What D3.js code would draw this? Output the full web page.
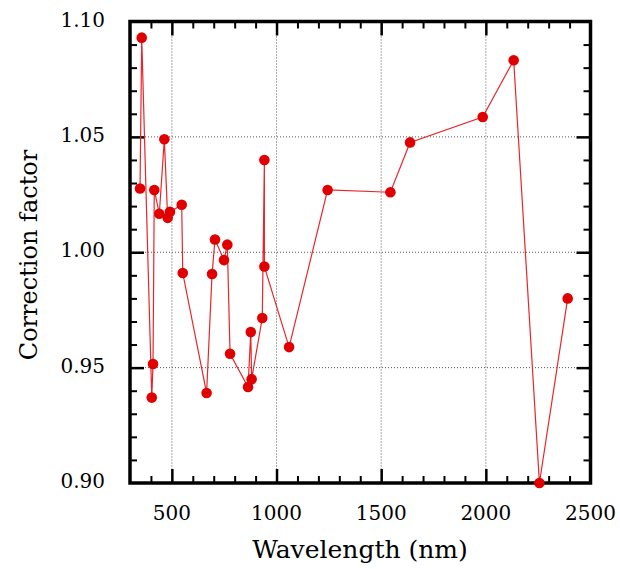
<!DOCTYPE html>
<html>
<head>
<meta charset="utf-8">
<script src="https://cdn.jsdelivr.net/npm/d3@7"></script>
<style>
  body { margin: 0; background: #fff; }
</style>
</head>
<body>
<svg></svg>
<script>
// data
const wavelengths = [348, 356, 404, 410, 416, 440, 464, 480, 491, 547, 552, 666, 692, 706, 749, 765, 778,
  864, 877, 881, 932, 942, 942, 1060, 1244, 1544, 1638, 1985, 2133, 2256, 2391];
const factors = [1.0276, 1.093, 0.937, 0.9516, 1.027, 1.0167, 1.049, 1.0149, 1.0175, 1.0206, 0.991, 0.939,
  0.9906, 1.0055, 0.9966, 1.0033, 0.956, 0.9416, 0.9654, 0.945, 0.9715, 1.040, 0.9938, 0.9589, 1.027,
  1.026, 1.0476, 1.0586, 1.0832, 0.900, 0.980];
const xTicks = [500, 1000, 1500, 2000, 2500];
const yTicks = [0.90, 0.95, 1.00, 1.05, 1.10];
const xGrid = [500, 1000, 1500, 2000];
const yGrid = [0.95, 1.00, 1.05];

const serif = "DejaVu Serif";

let width = 620,
  height = 569;
let plotLeft = 130, plotRight = 590.5, plotTop = 21.5, plotBottom = 483;

let svg = d3.select("svg").attr("width", width).attr("height", height);

let x = d3.scaleLinear().domain([300, 2500]).range([plotLeft, plotRight]);
let y = d3.scaleLinear().domain([0.9, 1.1]).range([plotBottom, plotTop]);

const data = wavelengths.map((w, i) => ({ w: w, f: factors[i] }));

// dotted grid
svg.append("g")
  .selectAll("line")
  .data(xGrid)
  .enter()
  .append("line")
  .attr("x1", (d) => x(d)).attr("x2", (d) => x(d))
  .attr("y1", plotTop).attr("y2", plotBottom)
  .attr("stroke", "#555")
  .attr("stroke-width", 1)
  .style("stroke-dasharray", "1,2");
svg.append("g")
  .selectAll("line")
  .data(yGrid)
  .enter()
  .append("line")
  .attr("x1", plotLeft).attr("x2", plotRight)
  .attr("y1", (d) => y(d)).attr("y2", (d) => y(d))
  .attr("stroke", "#555")
  .attr("stroke-width", 1)
  .style("stroke-dasharray", "1,2");

// inward ticks on all four sides
const xMinor = d3.range(400, 2500, 100).filter((v) => v % 500 !== 0);
const yMinor = d3.range(0.91, 1.1, 0.01).filter((v) => Math.abs(v * 20 - Math.round(v * 20)) > 1e-6);

function xAxisTicks(axis, yPos) {
  svg.append("g")
    .attr("transform", `translate(0,${yPos})`)
    .call(axis(x).tickValues(xMinor).tickSize(7).tickFormat(""))
    .call((g) => g.select(".domain").remove())
    .call((g) => g.selectAll("line").attr("stroke-width", 2));
  svg.append("g")
    .attr("transform", `translate(0,${yPos})`)
    .call(axis(x).tickValues(xGrid).tickSize(14).tickFormat(""))
    .call((g) => g.select(".domain").remove())
    .call((g) => g.selectAll("line").attr("stroke-width", 2.5));
}
xAxisTicks(d3.axisTop, plotBottom);
xAxisTicks(d3.axisBottom, plotTop);

function yAxisTicks(axis, xPos) {
  svg.append("g")
    .attr("transform", `translate(${xPos},0)`)
    .call(axis(y).tickValues(yMinor).tickSize(7).tickFormat(""))
    .call((g) => g.select(".domain").remove())
    .call((g) => g.selectAll("line").attr("stroke-width", 2));
  svg.append("g")
    .attr("transform", `translate(${xPos},0)`)
    .call(axis(y).tickValues(yGrid).tickSize(14).tickFormat(""))
    .call((g) => g.select(".domain").remove())
    .call((g) => g.selectAll("line").attr("stroke-width", 2.5));
}
yAxisTicks(d3.axisRight, plotLeft);
yAxisTicks(d3.axisLeft, plotRight);

// frame
svg.append("rect")
  .attr("x", plotLeft).attr("y", plotTop)
  .attr("width", plotRight - plotLeft).attr("height", plotBottom - plotTop)
  .attr("fill", "none")
  .attr("stroke", "#000")
  .attr("stroke-width", 3.5);

// tick labels
svg.append("g")
  .selectAll("text")
  .data(xTicks)
  .enter()
  .append("text")
  .attr("x", (d) => x(d))
  .attr("y", 520)
  .attr("text-anchor", "middle")
  .attr("font-family", serif)
  .attr("font-size", 20)
  .text((d) => d);
svg.append("g")
  .selectAll("text")
  .data(yTicks)
  .enter()
  .append("text")
  .attr("x", 105)
  .attr("y", (d) => y(d) + 5)
  .attr("text-anchor", "end")
  .attr("font-family", serif)
  .attr("font-size", 20)
  .text((d) => d.toFixed(2));

// axis titles
svg.append("text")
  .attr("x", 360)
  .attr("y", 558)
  .attr("text-anchor", "middle")
  .attr("font-family", serif)
  .attr("font-size", 25)
  .text("Wavelength (nm)");
svg.append("text")
  .attr("transform", "translate(37,255) rotate(-90)")
  .attr("text-anchor", "middle")
  .attr("font-family", serif)
  .attr("font-size", 24)
  .text("Correction factor");

// series
svg.append("path")
  .datum(data)
  .attr("fill", "none")
  .attr("stroke", "#e8262a")
  .attr("stroke-width", 1.2)
  .attr("d", d3.line().x((d) => x(d.w)).y((d) => y(d.f)));

svg.append("g")
  .selectAll("circle")
  .data(data)
  .enter()
  .append("circle")
  .attr("cx", (d) => x(d.w))
  .attr("cy", (d) => y(d.f))
  .attr("r", 5.3)
  .attr("fill", "#e00000");
</script>
</body>
</html>
